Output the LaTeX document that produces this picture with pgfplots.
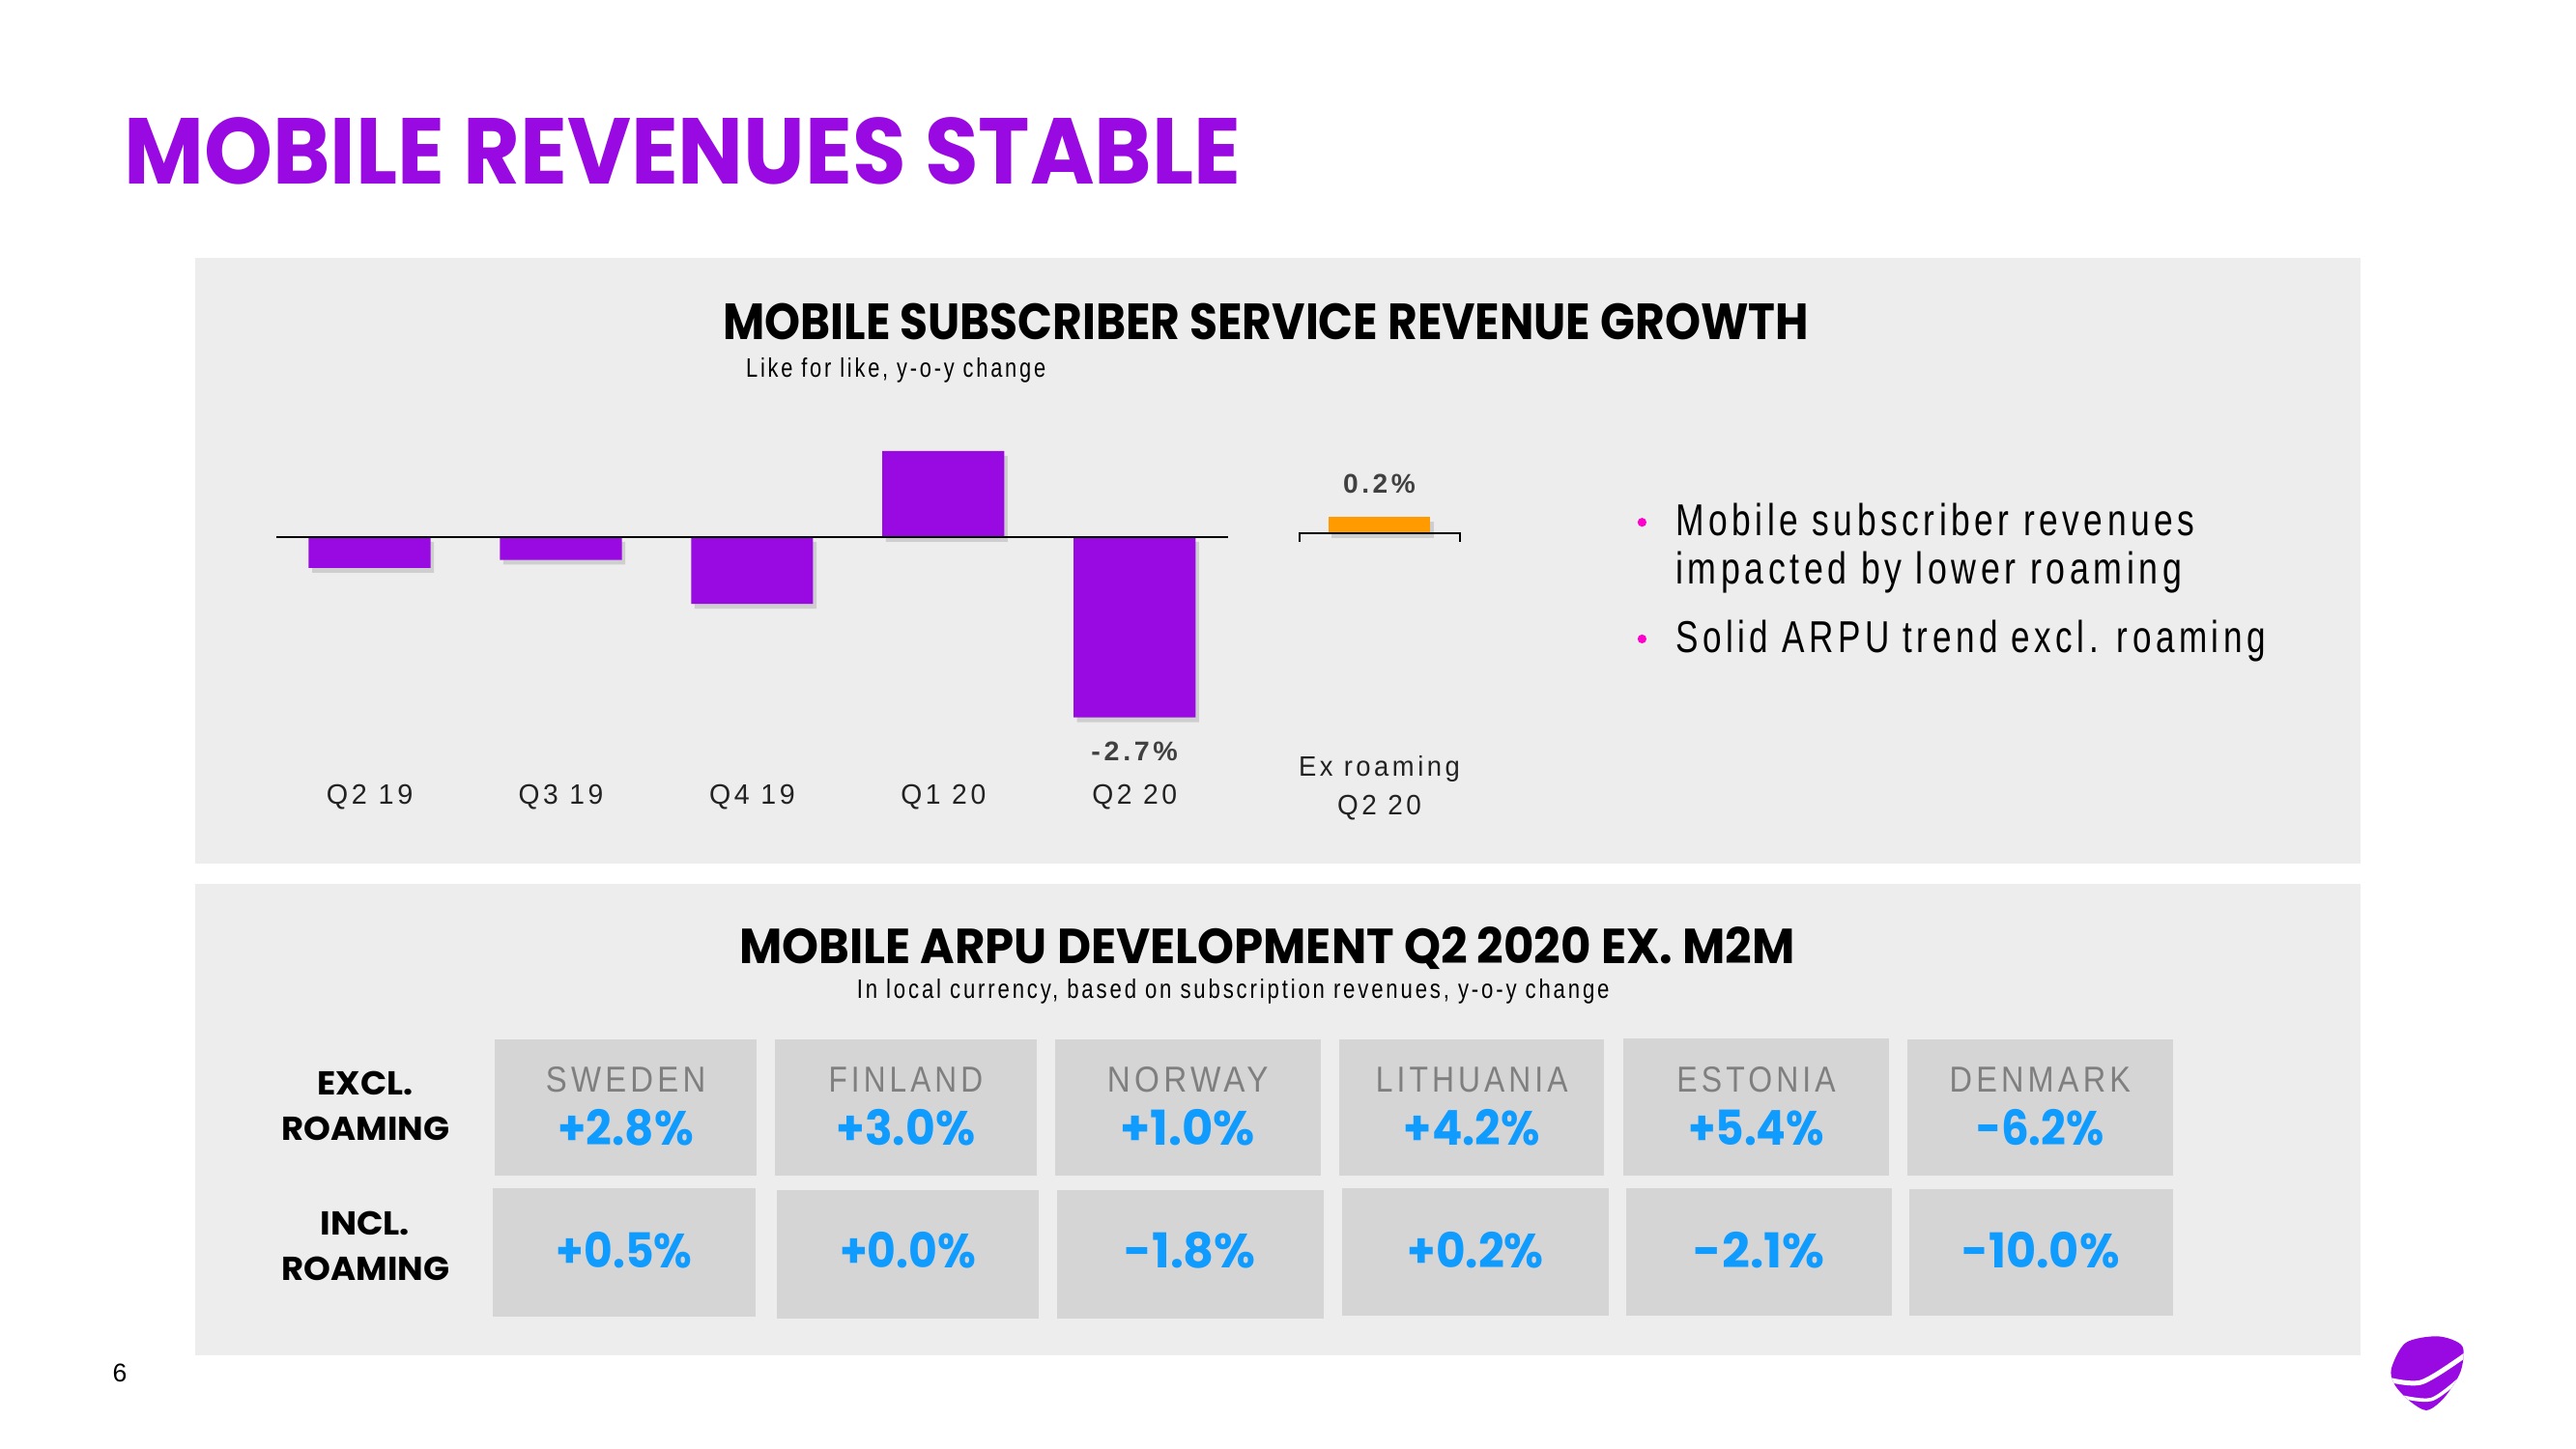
\documentclass[border=0pt]{standalone}
\usepackage{pgfplots}
\pgfplotsset{compat=1.18}
\usepackage{fontspec}
\setmainfont{Liberation Sans}
\newfontfamily\tf{Poppins}
\newfontfamily\nf{Liberation Sans}[FakeStretch=0.78, LetterSpace=10]
\definecolor{tpurple}{HTML}{990AE3}
\definecolor{torange}{HTML}{FF9B00}
\definecolor{tpink}{HTML}{FF00CC}
\definecolor{panelgray}{HTML}{EDEDED}
\definecolor{cellgray}{HTML}{D5D5D5}
\definecolor{ctrygray}{HTML}{7F7F7F}
\definecolor{tblue}{HTML}{109BFF}
\definecolor{lblgray}{HTML}{404040}
\definecolor{cattext}{HTML}{222222}
\newlength\upx \setlength\upx{0.6145pt}
\newcommand\fw[2]{\resizebox{#1\upx}{\height}{#2}}
\begin{document}
\begin{tikzpicture}
\begin{scope}[x=0.6145pt,y=-0.6145pt]
\useasboundingbox (0,0) rectangle (1568,882);
\fill[white] (0,0) rectangle (1568,882);
\fill[panelgray] (119,157) rectangle (1437,526);
\fill[panelgray] (119,538) rectangle (1437,825);
% main title
\node[anchor=base west, inner sep=0, text=tpurple] at (75,112) {\fw{680}{\tf\bfseries\fontsize{35}{40}\selectfont MOBILE REVENUES STABLE}};
% panel 1 titles
\node[anchor=base, inner sep=0] at (770.6,206.8) {\fw{660.6}{\tf\bfseries\fontsize{19}{22}\selectfont MOBILE SUBSCRIBER SERVICE REVENUE GROWTH}};
\node[anchor=base west, inner sep=0] at (453.8,229.5) {\fw{182.4}{\nf\fontsize{10}{12}\selectfont Like for like, y-o-y change}};
% bullets
\fill[tpink] (999.5,318) circle (2.7);
\fill[tpink] (999.5,389) circle (2.7);
\node[anchor=base west, inner sep=0] at (1019.7,326) {\fw{316}{\nf\fontsize{16.7}{18}\selectfont Mobile subscriber revenues}};
\node[anchor=base west, inner sep=0] at (1019.7,355.5) {\fw{308}{\nf\fontsize{16.7}{18}\selectfont impacted by lower roaming}};
\node[anchor=base west, inner sep=0] at (1019.7,397.5) {\fw{359}{\nf\fontsize{16.7}{18}\selectfont Solid ARPU trend excl. roaming}};
% panel 2 titles
\node[anchor=base, inner sep=0] at (771.3,586.5) {\fw{642.6}{\tf\bfseries\fontsize{18.4}{22}\selectfont MOBILE ARPU DEVELOPMENT Q2 2020 EX. M2M}};
\node[anchor=base west, inner sep=0] at (521.3,608) {\fw{458}{\nf\fontsize{10}{12}\selectfont In local currency, based on subscription revenues, y-o-y change}};
% row labels
\node[anchor=base, inner sep=0] at (222.2,666.5) {\fw{58.2}{\tf\bfseries\fontsize{12.4}{14}\selectfont EXCL.}};
\node[anchor=base, inner sep=0] at (222.7,694.4) {\fw{102.1}{\tf\bfseries\fontsize{12.4}{14}\selectfont ROAMING}};
\node[anchor=base, inner sep=0] at (222.2,751.8) {\fw{54.4}{\tf\bfseries\fontsize{12.4}{14}\selectfont INCL.}};
\node[anchor=base, inner sep=0] at (222.7,779.3) {\fw{102.1}{\tf\bfseries\fontsize{12.4}{14}\selectfont ROAMING}};
% cells
\fill[cellgray] (301.2,633) rectangle (460.5,715.5);
\fill[cellgray] (471.8,633) rectangle (630.8,715.5);
\fill[cellgray] (642,633) rectangle (804,715.5);
\fill[cellgray] (815.2,633) rectangle (976.6,715.5);
\fill[cellgray] (988.3,632.5) rectangle (1149.8,715.5);
\fill[cellgray] (1161,633) rectangle (1322.5,716);
\fill[cellgray] (300.1,723.5) rectangle (459.9,801.8);
\fill[cellgray] (473,724.5) rectangle (632.4,803);
\fill[cellgray] (643.6,724.5) rectangle (805.5,803);
\fill[cellgray] (817,723.5) rectangle (979.5,801);
\fill[cellgray] (990,723.5) rectangle (1151.7,801);
\fill[cellgray] (1162,724) rectangle (1322.5,801);
% country names
\foreach \cx/\w/\t in {380.9/97.2/SWEDEN, 551.3/93.8/FINLAND, 723/98/NORWAY, 895.9/116.8/LITHUANIA, 1069/96.6/ESTONIA, 1241.8/110.2/DENMARK}
  \node[anchor=base, inner sep=0, text=ctrygray] at (\cx,664.6) {\fw{\w}{\nf\fontsize{13.5}{15}\selectfont \t}};
% values row 1
\foreach \cx/\w/\t in {380.9/82.5/+2.8\%, 551.3/84.5/+3.0\%, 723/82/+1.0\%, 895.9/82.7/+4.2\%, 1069/83/+5.4\%, 1241.8/78/-6.2\%}
  \node[anchor=base, inner sep=0, text=tblue] at (\cx,697) {\fw{\w}{\tf\bfseries\fontsize{18}{20}\selectfont \t}};
% values row 2
\foreach \cx/\w/\t in {380/82.7/+0.5\%, 552.7/83/+0.0\%, 724.5/80/-1.8\%, 898.2/83/+0.2\%, 1070.8/79.6/-2.1\%, 1242.2/95.9/-10.0\%}
  \node[anchor=base, inner sep=0, text=tblue] at (\cx,772) {\fw{\w}{\tf\bfseries\fontsize{18}{20}\selectfont \t}};
% page number
\node[anchor=base, inner sep=0] at (73,841.4) {\fontsize{9.6}{11}\selectfont 6};
% logo
\path[fill=tpurple] plot[smooth cycle] coordinates {(1455.6,833.2) (1464.4,817.5) (1484.0,813.6) (1498.7,819.5) (1497.7,835.1) (1487.9,850.8) (1477.2,858.6) (1466.4,852.7) (1457.6,843.0)};
\begin{scope}
\clip plot[smooth cycle] coordinates {(1455.6,833.2) (1464.4,817.5) (1484.0,813.6) (1498.7,819.5) (1497.7,835.1) (1487.9,850.8) (1477.2,858.6) (1466.4,852.7) (1457.6,843.0)};
\draw[white, line width=1.8pt] plot[smooth] coordinates {(1452,839.5) (1474,841.5) (1502,824)};
\draw[white, line width=1.3pt] plot[smooth] coordinates {(1458,849.5) (1480,852) (1500,837)};
\end{scope}
\coordinate (A1) at (155.16,444.94);
\coordinate (A2) at (772.08,334.4);
\end{scope}
% main bar chart
\begin{axis}[at={(A1)}, anchor=south west, x=71.528pt, y=24.992pt,
  xmin=-0.6, xmax=4.6, ymin=-2.9, ymax=1.4, hide axis, clip=false]
\addplot[ybar, bar width=45.6pt, fill=tpurple, draw=none,
  preaction={fill=black, opacity=0.13, transform canvas={xshift=1.3pt, yshift=-1.8pt}}]
  coordinates {(0,-0.46) (1,-0.34) (2,-1.0) (3,1.29) (4,-2.7)};
\addplot[black, line width=0.75pt] coordinates {(-0.49,0) (4.49,0)};
\node[anchor=base, inner sep=0, text=cattext] at (axis cs:0,-4.0) {\fw{52.6}{\nf\fontsize{10.5}{12}\selectfont Q2 19}};
\node[anchor=base, inner sep=0, text=cattext] at (axis cs:1,-4.0) {\fw{51.5}{\nf\fontsize{10.5}{12}\selectfont Q3 19}};
\node[anchor=base, inner sep=0, text=cattext] at (axis cs:2,-4.0) {\fw{52.2}{\nf\fontsize{10.5}{12}\selectfont Q4 19}};
\node[anchor=base, inner sep=0, text=cattext] at (axis cs:3,-4.0) {\fw{51.7}{\nf\fontsize{10.5}{12}\selectfont Q1 20}};
\node[anchor=base, inner sep=0, text=cattext] at (axis cs:4,-4.0) {\fw{51.7}{\nf\fontsize{10.5}{12}\selectfont Q2 20}};
\node[anchor=base, inner sep=0, text=lblgray] at (axis cs:4,-3.351) {\fw{52.6}{\nf\bfseries\fontsize{10.1}{12}\selectfont -2.7\%}};
\end{axis}
% ex roaming
\begin{axis}[at={(A2)}, anchor=south west, x=71.528pt, y=30.11pt,
  xmin=4.7, xmax=5.9, ymin=-0.2, ymax=0.6, hide axis, clip=false]
\addplot[ybar, bar width=38.1pt, fill=torange, draw=none,
  preaction={fill=black, opacity=0.13, transform canvas={xshift=1.3pt, yshift=-1.8pt}}]
  coordinates {(5.28,0.2)};
\addplot[black, line width=0.75pt] coordinates {(4.862,-0.108) (4.862,0) (5.702,0) (5.702,-0.108)};
\node[anchor=base, inner sep=0, text=lblgray] at (axis cs:5.28,0.492) {\fw{44}{\nf\bfseries\fontsize{10.1}{12}\selectfont 0.2\%}};
\node[anchor=base, inner sep=0, text=cattext] at (axis cs:5.28,-3.018) {\fw{98}{\nf\fontsize{10.5}{12}\selectfont Ex roaming}};
\node[anchor=base, inner sep=0, text=cattext] at (axis cs:5.28,-3.498) {\fw{51}{\nf\fontsize{10.5}{12}\selectfont Q2 20}};
\end{axis}
\end{tikzpicture}
\end{document}
